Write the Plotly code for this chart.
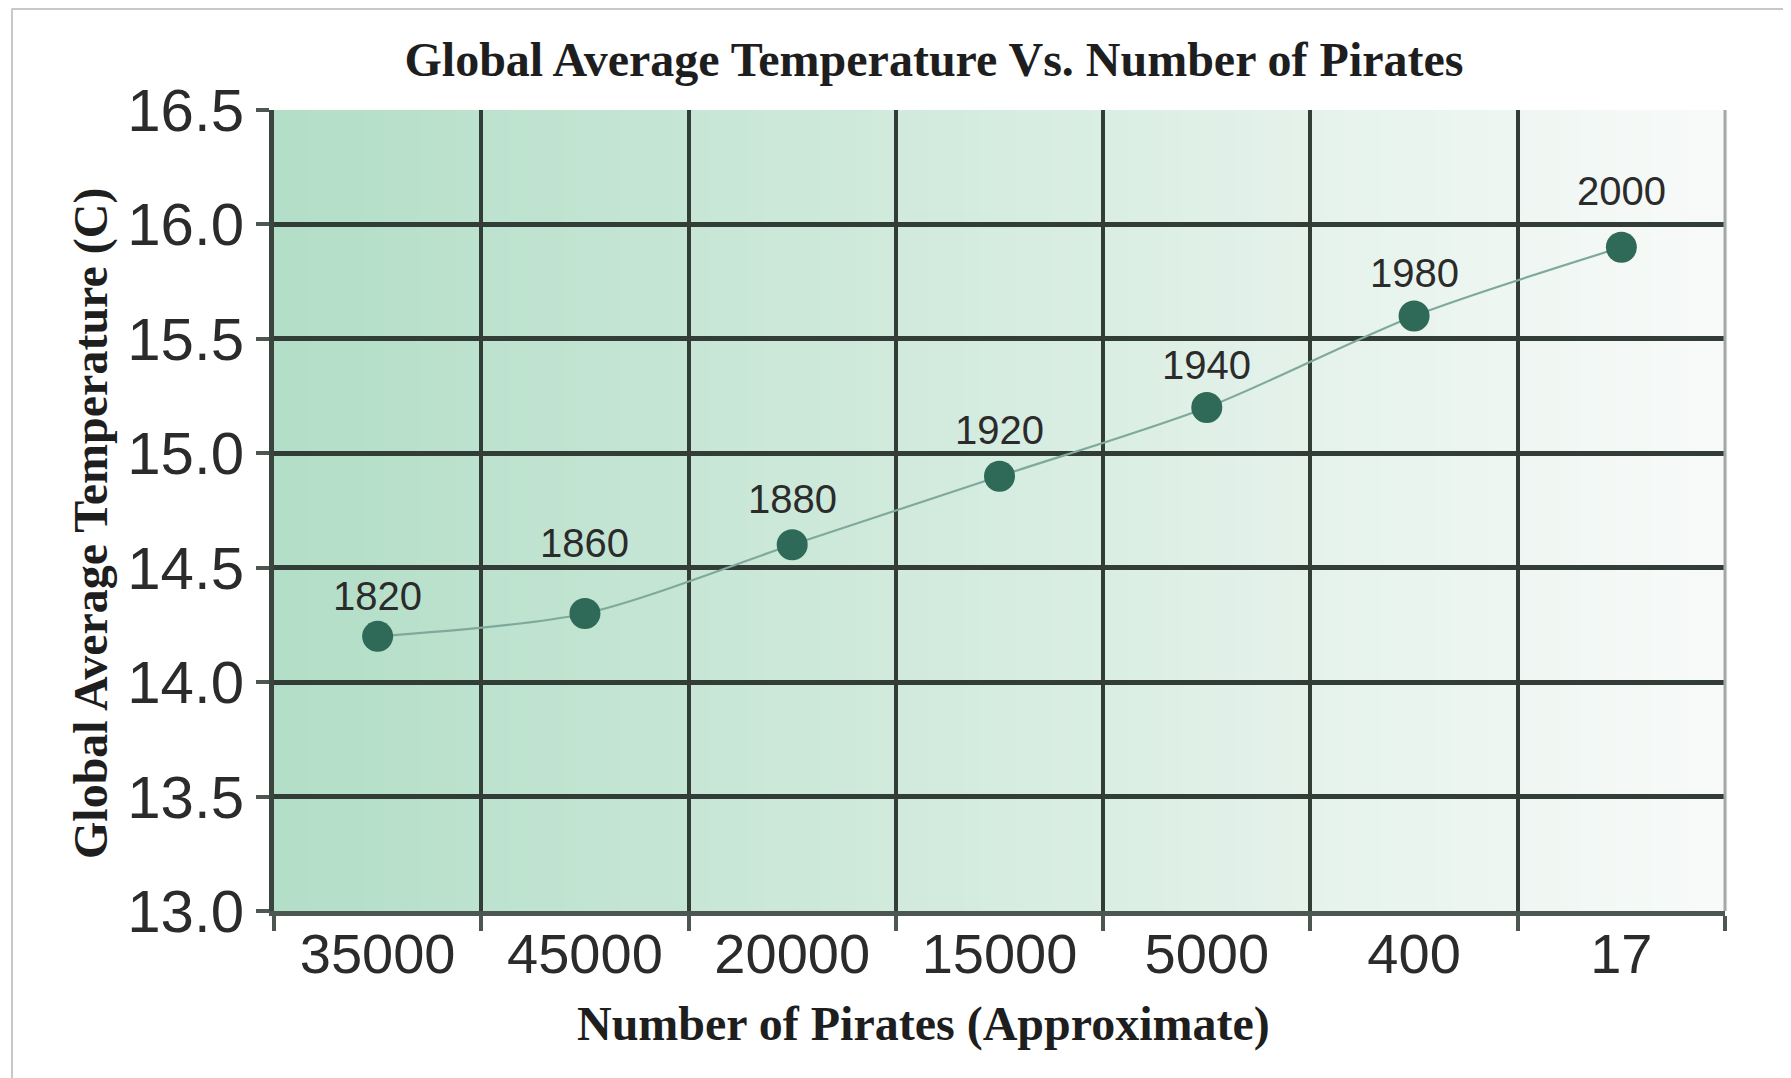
import plotly.graph_objects as go

# ---- data ----
pirates = ["35000", "45000", "20000", "15000", "5000", "400", "17"]
temperature = [14.2, 14.3, 14.6, 14.9, 15.2, 15.6, 15.9]
years = ["1820", "1860", "1880", "1920", "1940", "1980", "2000"]
y_ticks = [13.0, 13.5, 14.0, 14.5, 15.0, 15.5, 16.0, 16.5]

title_text = "Global Average Temperature Vs. Number of Pirates"
x_title = "Number of Pirates (Approximate)"
y_title = "Global Average Temperature (C)"

# style: how far (px) each year label sits above its point
label_lift = [40, 70, 46, 46, 43, 43, 56]

# page body has an 8px margin, so the figure is drawn 8px in from the top-left
OFF = 8
W, H = 1791 - OFF, 1078 - OFF
ML = 274 - OFF
MT = 110 - OFF
MR = W - (1725 - OFF)
MB = H - (911 - OFF)
pw = W - ML - MR
ph = H - MT - MB


def px_x(x):
    return (x - OFF - ML) / pw


def px_y(y):
    return (H - MB - (y - OFF)) / ph


fig = go.Figure()
fig.add_trace(go.Scatter(
    x=pirates, y=temperature,
    mode="lines+markers",
    line=dict(shape="spline", smoothing=0.8, color="#7fa99b", width=2.2),
    marker=dict(size=31, color="#2e6a57"),
    cliponaxis=False,
    showlegend=False,
))

# background gradient (green on the left fading to near white on the right)
shapes = []
n = 80
c0 = (179, 222, 199)
c1 = (248, 250, 249)
for i in range(n):
    t = i / (n - 1)
    r = round(c0[0] + (c1[0] - c0[0]) * t)
    g = round(c0[1] + (c1[1] - c0[1]) * t)
    b = round(c0[2] + (c1[2] - c0[2]) * t)
    shapes.append(dict(type="rect", xref="x domain", yref="y domain",
                       x0=i / n, x1=(i + 1) / n + 0.002, y0=0, y1=1,
                       fillcolor=f"rgb({r},{g},{b})", line=dict(width=0), layer="below"))
# right border of plot (lighter)
shapes.append(dict(type="line", xref="x domain", yref="y domain", x0=1, x1=1, y0=0, y1=1,
                   line=dict(color="#a3a8a5", width=3), layer="above"))
# outer frame (left and top)
shapes.append(dict(type="line", xref="paper", yref="paper",
                   x0=px_x(12), x1=px_x(12), y0=px_y(1078), y1=px_y(OFF + 0.5),
                   line=dict(color="#c8c8c8", width=2)))
shapes.append(dict(type="line", xref="paper", yref="paper",
                   x0=px_x(12), x1=px_x(1791),
                   y0=px_y(OFF + 1), y1=px_y(OFF + 1),
                   line=dict(color="#c8c8c8", width=2)))

serif = "Liberation Serif, Times New Roman, serif"
annotations = [
    dict(text=f"<b>{x_title}</b>", xref="paper", yref="paper",
         x=px_x(923), y=px_y(1024), xanchor="center", yanchor="middle",
         showarrow=False, font=dict(family=serif, size=48, color="#1e1e1e")),
    dict(text=f"<b>{y_title}</b>", xref="paper", yref="paper", textangle=-90,
         x=px_x(91), y=px_y(524), xanchor="center", yanchor="middle",
         showarrow=False, font=dict(family=serif, size=48, color="#1e1e1e")),
]
# year labels above each point (category axis: annotations use the category index)
for idx, (temp, yr, lift) in enumerate(zip(temperature, years, label_lift)):
    annotations.append(dict(
        text=yr, x=idx, y=temp, xref="x", yref="y", showarrow=False,
        xanchor="center", yanchor="middle", yshift=lift,
        font=dict(family="Liberation Sans, Arial, sans-serif", size=40, color="#2b2b2b"),
    ))

fig.update_layout(
    width=W, height=H,
    margin=dict(l=ML, r=MR, t=MT, b=MB),
    paper_bgcolor="white", plot_bgcolor="white",
    title=dict(text=f"<b>{title_text}</b>", x=(934 - OFF) / W, y=1 - (59 - OFF) / H,
               xanchor="center", yanchor="middle",
               font=dict(family=serif, size=48, color="#1e1e1e")),
    shapes=shapes,
    annotations=annotations,
)
fig.update_xaxes(
    type="category", categoryorder="array", categoryarray=pirates,
    range=[-0.5, len(pirates) - 0.5],
    tickson="boundaries", showgrid=True, gridcolor="#323d38", gridwidth=4,
    showline=True, linecolor="#4d5752", linewidth=5,
    ticks="outside", ticklen=15, tickwidth=4, tickcolor="#4d5752",
    ticklabelstandoff=-10, tickangle=0,
    tickfont=dict(family="Liberation Sans, Arial, sans-serif", size=56, color="#2b2b2b"),
    zeroline=False, fixedrange=True,
)
fig.update_yaxes(
    range=[13.0, 16.5], tickvals=y_ticks, tickformat=".1f",
    showgrid=True, gridcolor="#323d38", gridwidth=5,
    showline=True, linecolor="#3a4540", linewidth=5,
    ticks="outside", ticklen=13, tickwidth=4, tickcolor="#4d5752",
    tickfont=dict(family="Liberation Sans, Arial, sans-serif", size=60, color="#2b2b2b"),
    zeroline=False, fixedrange=True,
)

fig.write_html("out.html")
